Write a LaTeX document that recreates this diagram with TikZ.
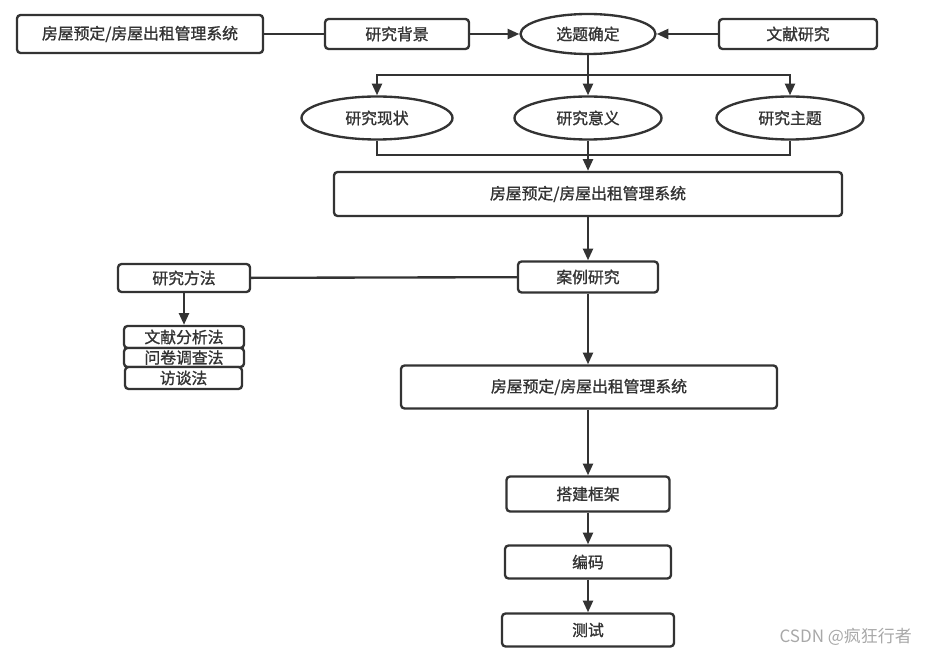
\documentclass[tikz,border=0pt]{standalone}
\usepackage{fontspec}
\setmainfont{Noto Sans CJK SC}
\newfontfamily\boxfont{Noto Sans CJK SC}[FakeBold=1.2]
\usetikzlibrary{shapes.geometric}
\usetikzlibrary{arrows.meta}
\definecolor{linegray}{HTML}{333333}
\definecolor{markgray}{HTML}{A8A8A8}

\begin{document}
\begin{tikzpicture}[x=0.03cm, y=-0.03cm,
    line/.style={draw=linegray, line width=2pt},
    box/.style={draw=linegray, line width=2pt, rounded corners=3pt, fill=white, inner sep=0pt,
        font=\boxfont\fontsize{13.5}{15}\selectfont, text=linegray},
    oval/.style={box, ellipse},
    arr/.style={line, -{Triangle[length=10pt, width=8.5pt]}}]
    \useasboundingbox (0,0) rectangle (931,656);

    % top row
    \node[box, minimum width=7.38cm, minimum height=1.14cm] (sys1) at (140,34) {房屋预定/房屋出租管理系统};
    \node[box, minimum width=4.32cm, minimum height=0.9cm] (bg) at (397,34) {研究背景};
    \node[oval, minimum width=4.05cm, minimum height=1.2cm] (xt) at (588,34) {选题确定};
    \node[box, minimum width=4.74cm, minimum height=0.9cm] (wx) at (798,34) {文献研究};
    \draw[line] (sys1) -- (bg);
    \draw[arr] (bg) -- (xt);
    \draw[arr] (wx) -- (xt);

    % three topics
    \node[oval, minimum width=4.53cm, minimum height=1.29cm] (xz) at (377,118) {研究现状};
    \node[oval, minimum width=4.41cm, minimum height=1.29cm] (yy) at (588,118) {研究意义};
    \node[oval, minimum width=4.41cm, minimum height=1.29cm] (zt) at (790,118) {研究主题};
    \coordinate (split) at (588,75);
    \draw[line] (xt.south) -- (split);
    \draw[arr] (split) -- (yy.north);
    \draw[arr] (split) -| (xz.north);
    \draw[arr] (split) -| (zt.north);

    \node[box, minimum width=15.24cm, minimum height=1.32cm] (sys2) at (588,194) {房屋预定/房屋出租管理系统};
    \coordinate (join) at (588,155);
    \draw[line] (xz.south) |- (join) -| (zt.south);
    \draw[line] (yy.south) -- (join);
    \draw[arr] (join) -- (sys2.north);

    % case study and methods
    \node[box, minimum width=4.2cm, minimum height=0.93cm] (al) at (588,277) {案例研究};
    \node[box, minimum width=3.96cm, minimum height=0.84cm] (ff) at (184,278) {研究方法};
    \draw[arr] (sys2) -- (al);
    \draw[line] (ff) -- (al);
    \node[box, minimum width=3.6cm, minimum height=0.66cm] (m1) at (184,337) {文献分析法};
    \node[box, minimum width=3.6cm, minimum height=0.57cm] (m2) at (184,357.5) {问卷调查法};
    \node[box, minimum width=3.51cm, minimum height=0.66cm] (m3) at (183.5,378) {访谈法};
    \draw[arr] (ff) -- (m1);

    \node[box, minimum width=11.28cm, minimum height=1.29cm] (sys3) at (589,387) {房屋预定/房屋出租管理系统};
    \draw[arr] (al) -- (sys3.north -| al);

    % build steps
    \node[box, minimum width=4.89cm, minimum height=1.05cm] (kj) at (588,494) {搭建框架};
    \node[box, minimum width=4.98cm, minimum height=0.99cm] (bm) at (588,562) {编码};
    \node[box, minimum width=5.16cm, minimum height=0.99cm] (cs) at (588,630) {测试};
    \draw[arr] (sys3.south -| kj) -- (kj);
    \draw[arr] (kj) -- (bm);
    \draw[arr] (bm) -- (cs);

    \node[text=markgray, font=\fontsize{14.5}{16}\selectfont, anchor=east] (mark) at (916,637) {CSDN @疯狂行者};
\end{tikzpicture}
\end{document}
